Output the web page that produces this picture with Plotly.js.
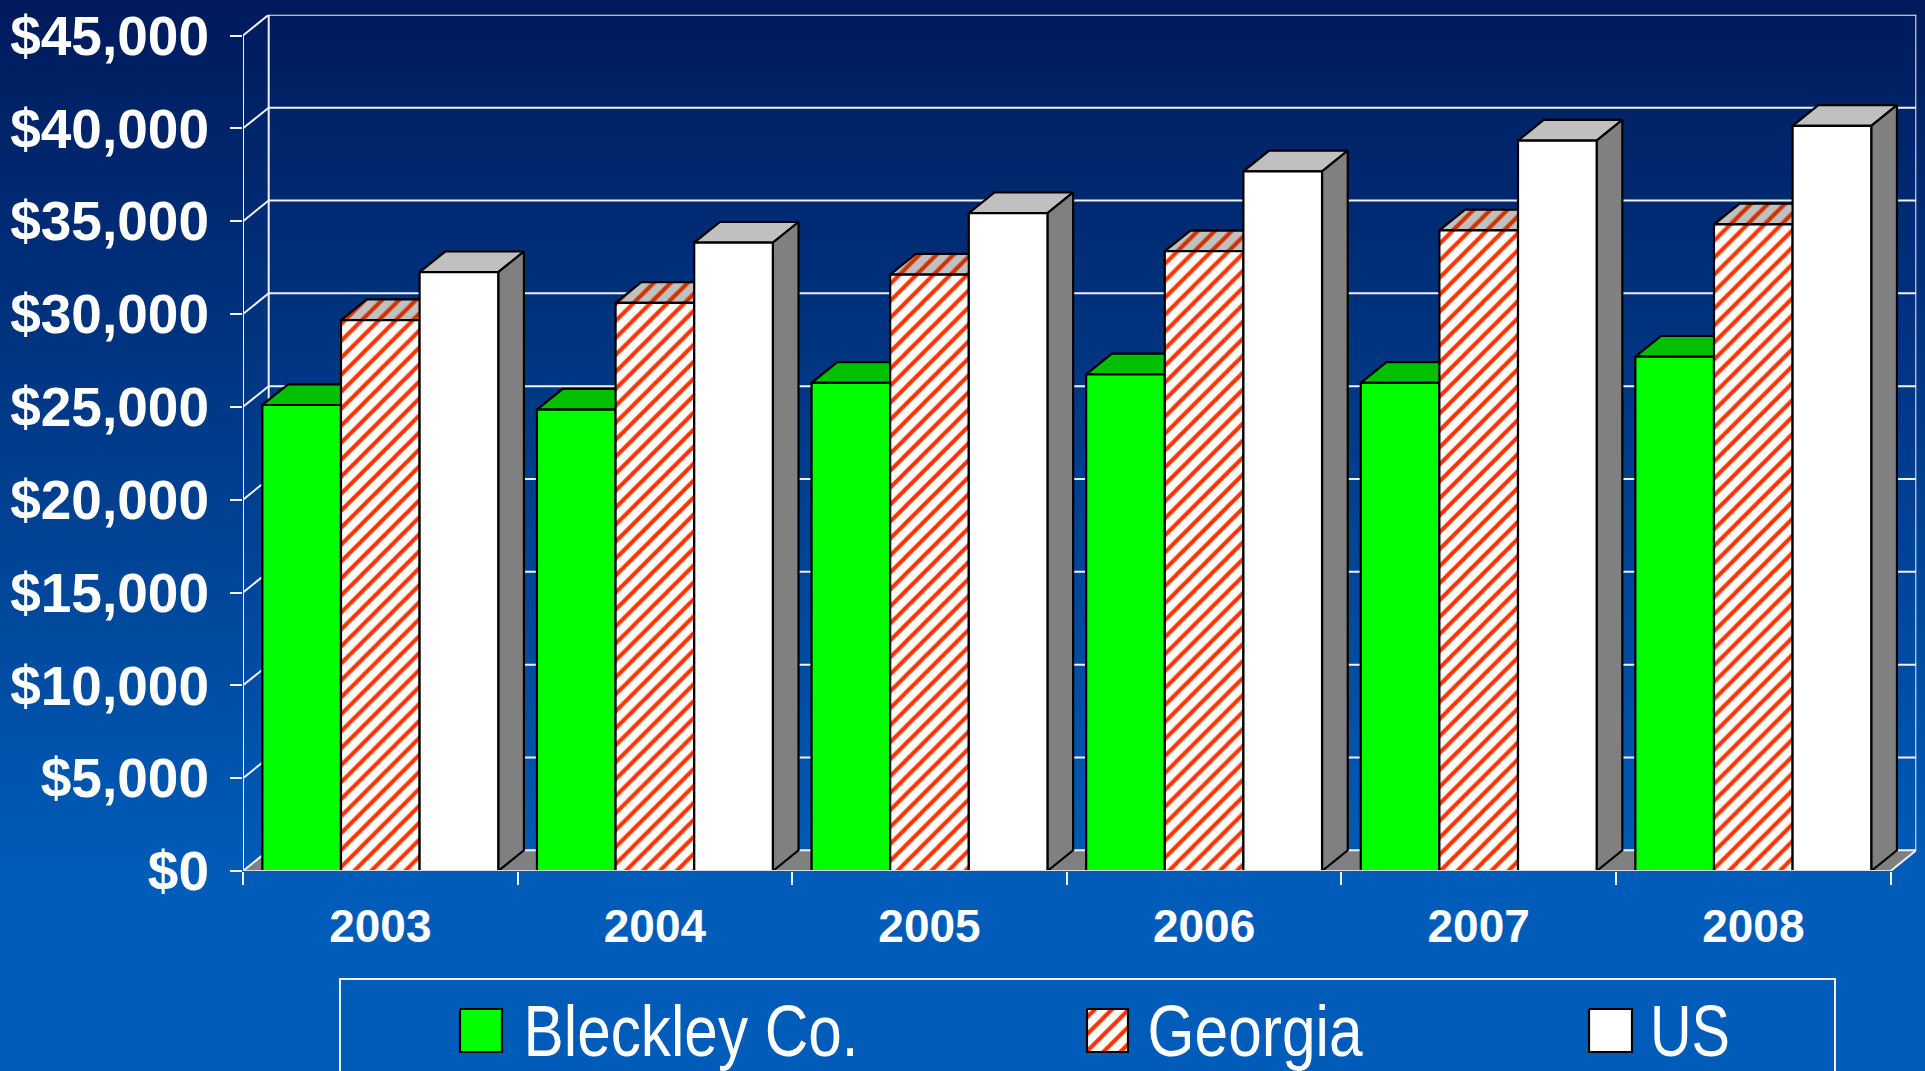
<!DOCTYPE html>
<html><head><meta charset="utf-8">
<script src="https://cdn.plot.ly/plotly-3.0.1.min.js"></script>
<style>
html,body{margin:0;padding:0;width:1925px;height:1071px;overflow:hidden;background:linear-gradient(180deg,#001a5c 0%,#005cb8 82%,#005cb8 100%);}
#chart{width:1925px;height:1071px;}
</style></head><body><div id="chart"></div>
<script>
const years=['2003','2004','2005','2006','2007','2008'];
const bleckley=[25100,24850,26290,26750,26290,27700];
const georgia=[29670,30600,32120,33380,34500,34830];
const us=[32250,33840,35430,37680,39340,40130];
const yTicks=[0,5000,10000,15000,20000,25000,30000,35000,40000,45000];
const legendNames=['Bleckley Co.','Georgia','US'];

const W=1925,H=1071;
const xFront0=243,xFront1=1890.6,yBase=871,yTop=35.5,depthX=25.7,depthY=20.7;
const catPx=(xFront1-xFront0)/years.length, dollarPx=(yBase-yTop)/45000;
const dx=depthX/catPx, dy=depthY/dollarPx;
const xR=[-0.5,years.length-0.5+dx], yR=[0,45000+dy];
const gap=0.141, bw=(1-gap)/3;
const xMin=-0.5,xMax=years.length-0.5;
const font='"Liberation Sans",Arial,sans-serif';
const wallLine={color:'#eef1f6',width:2};
const edge=2.2;

function polys(list){const x=[],y=[];list.forEach((p,k)=>{if(k){x.push(null);y.push(null);}p.forEach(q=>{x.push(q[0]);y.push(q[1]);});});return {x,y};}
function poly(list,fillcolor,extra){const p=polys(list);return Object.assign({type:'scatter',mode:'lines',x:p.x,y:p.y,fill:'toself',fillcolor,line:{color:'#000',width:edge},hoverinfo:'skip',showlegend:false,xaxis:'x',yaxis:'y',cliponaxis:false},extra||{});}
function lines(list,line){const p=polys(list);return {type:'scatter',mode:'lines',x:p.x,y:p.y,line,hoverinfo:'skip',showlegend:false,xaxis:'x',yaxis:'y',cliponaxis:false};}

function tops(vals,s){return vals.map((v,i)=>{const a=i-1.5*bw+s*bw,b=a+bw;return [[a,v],[b,v],[b+dx,v+dy],[a+dx,v+dy],[a,v]];});}
function sides(vals,s){return vals.map((v,i)=>{const b=i-1.5*bw+(s+1)*bw;return [[b,0],[b,v],[b+dx,v+dy],[b+dx,dy],[b,0]];});}

const pat={shape:'/',bgcolor:'#ffffff',fgcolor:'#ff3300',size:12,solidity:0.34};
const data=[
 poly([[[xMin,0],[xMax,0],[xMax+dx,dy],[xMin+dx,dy],[xMin,0]]],'#808080',{line:{width:0}}),
 lines(yTicks.map(t=>[[xMin,t],[xMin+dx,t+dy],[xMax+dx,t+dy]]),wallLine),
 lines([[[xMin+dx,dy],[xMin+dx,45000+dy]],[[xMax+dx,dy],[xMax+dx,45000+dy]],[[xMin,0],[xMin,45000]],[[xMax,0],[xMax+dx,dy]]],wallLine),
 poly(tops(bleckley,0),'#00c000'),
 poly(tops(georgia,1),'#c0c0c0',{fillpattern:{shape:'/',bgcolor:'#c0c0c0',fgcolor:'#cc3300',size:12,solidity:0.34}}),
 poly(tops(us,2),'#c0c0c0'),
 poly(sides(us,2),'#808080'),
];
[[bleckley,'#00ff00',null],[georgia,'#ffffff',pat],[us,'#ffffff',null]].forEach((d,k)=>{
 const m={color:d[1],line:{color:'#000',width:edge}}; if(d[2])m.pattern=d[2];
 data.push({type:'bar',name:legendNames[k],x:years.map((_,i)=>i),y:d[0],marker:m,xaxis:'x2',yaxis:'y2',showlegend:false,hovertemplate:'%{y:$,.0f}<extra>'+legendNames[k]+'</extra>'});
});
data.push({type:'scatter',mode:'lines',x:[xMin,xMax],y:[0,0],line:{color:'#d9dde3',width:2},xaxis:'x2',yaxis:'y2',cliponaxis:false,hoverinfo:'skip',showlegend:false});

const swatch=[[460,1009,502,1052],[1087,1009,1128,1052],[1589,1009,1632,1052]];
const swFill=[{c:'#00ff00'},{c:'#ffffff',p:pat},{c:'#ffffff'}];
swatch.forEach((s,k)=>{
 const t={type:'scatter',mode:'lines',x:[s[0],s[2],s[2],s[0],s[0]],y:[s[1],s[1],s[3],s[3],s[1]],fill:'toself',fillcolor:swFill[k].c,line:{color:'#000',width:2.2},xaxis:'x3',yaxis:'y3',hoverinfo:'skip',showlegend:false};
 if(swFill[k].p)t.fillpattern=swFill[k].p;
 data.push(t);
});
const legendTextCenter=[690.5,1255,1690];
const legendTextLen=[335,215,80];
const annotations=legendNames.map((n,k)=>({text:n,xref:'paper',yref:'paper',x:legendTextCenter[k]/W,y:1-1031/H,xanchor:'center',yanchor:'middle',showarrow:false,font:{family:font,size:72,color:'#fff'}}));
const layout={
 width:W,height:H,margin:{l:0,r:0,t:0,b:0},paper_bgcolor:'rgba(0,0,0,0)',plot_bgcolor:'rgba(0,0,0,0)',
 barmode:'group',bargap:gap,bargroupgap:0,showlegend:false,font:{family:font,color:'#fff'},
 xaxis:{domain:[xFront0/W,(xFront1+depthX)/W],range:xR,type:'linear',anchor:'y',tickmode:'array',tickvals:years.map((_,i)=>i),ticktext:years,ticks:'',ticklabelstandoff:24,
   tickfont:{family:font,size:46,color:'#fff',weight:'bold'},showgrid:false,zeroline:false,showline:false,
   minor:{tickmode:'array',tickvals:years.map((_,i)=>i-0.5).concat([xMax]),ticks:'outside',ticklen:13,tickwidth:2,tickcolor:'#f0f3f8',showgrid:false}},
 yaxis:{domain:[1-yBase/H,1-(yTop-depthY)/H],range:yR,type:'linear',anchor:'x',tickmode:'array',tickvals:yTicks,ticktext:yTicks.map(v=>'$'+v.toLocaleString('en-US')),ticks:'outside',ticklen:12,tickwidth:2,tickcolor:'#f0f3f8',ticklabelstandoff:10,
   tickfont:{family:font,size:55,color:'#fff',weight:'bold'},showgrid:false,zeroline:false,showline:false},
 xaxis2:{overlaying:'x',anchor:'y2',range:xR,type:'linear',visible:false},
 yaxis2:{overlaying:'y',anchor:'x2',range:yR,type:'linear',visible:false},
 xaxis3:{domain:[0,1],range:[0,W],anchor:'y3',visible:false,fixedrange:true},
 yaxis3:{domain:[0,1],range:[H,0],anchor:'x3',visible:false,fixedrange:true},
 shapes:[{type:'rect',xref:'paper',yref:'paper',x0:340/W,x1:1835/W,y0:1-979/H,y1:-0.02,line:{color:'#eef1f6',width:2},fillcolor:'rgba(0,0,0,0)'}],
 annotations
};
Plotly.newPlot('chart',data,layout,{displayModeBar:false,staticPlot:true}).then(()=>{
 document.querySelectorAll('.annotation-text').forEach((t,k)=>{
  t.setAttribute('textLength',legendTextLen[k]);
  t.setAttribute('lengthAdjust','spacingAndGlyphs');
 });
});
</script></body></html>
